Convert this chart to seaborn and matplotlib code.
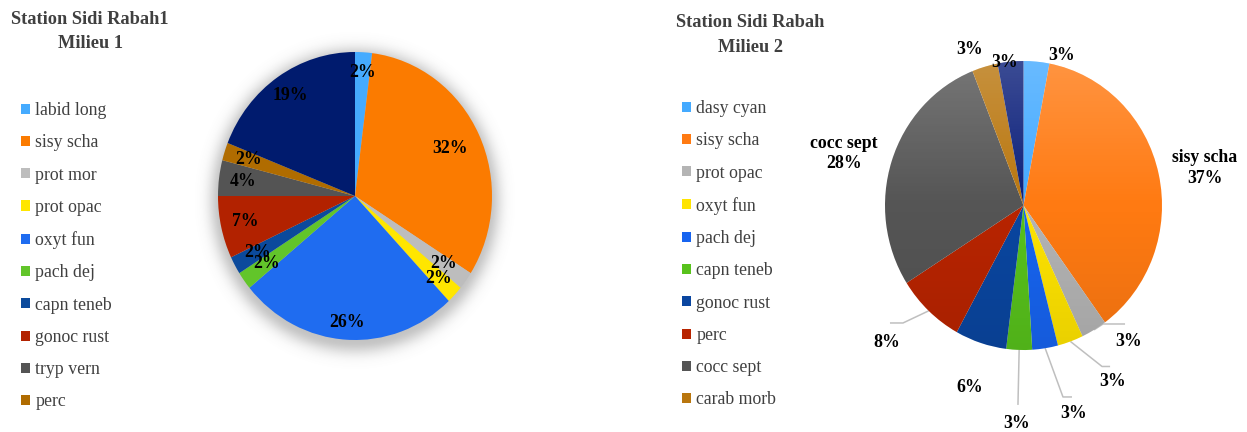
import numpy as np
import matplotlib
matplotlib.use("Agg")
import matplotlib.pyplot as plt
from matplotlib.patches import Circle
import seaborn as sns

# ---- data -------------------------------------------------------------
species_1 = ["labid long", "sisy scha", "prot mor", "prot opac", "oxyt fun",
             "pach dej", "capn teneb", "gonoc rust", "tryp vern", "perc", ""]
pct_1 = [2, 32, 2, 2, 26, 2, 2, 7, 4, 2, 19]

species_2 = ["dasy cyan", "sisy scha", "prot opac", "oxyt fun", "pach dej",
             "capn teneb", "gonoc rust", "perc", "cocc sept", "carab morb", ""]
pct_2 = [3, 37, 3, 3, 3, 3, 6, 8, 28, 3, 3]

title_1 = "Station Sidi Rabah1\nMilieu 1"
title_2 = "Station Sidi Rabah\nMilieu 2"

# ---- style ------------------------------------------------------------
sns.set_theme(style="white")
plt.rcParams["font.family"] = ["Liberation Serif", "DejaVu Serif"]

colors_1 = sns.color_palette(["#45ABFF", "#FB7B00", "#BDBDBD", "#FFE600", "#1F6CF0",
                              "#62C52A", "#0B4A9C", "#B22200", "#545454", "#B06C00",
                              "#001B6E"])
colors_2 = sns.color_palette(["#44AAFF", "#FF7A12", "#B4B4B4", "#FFE400", "#1764F0",
                              "#58C21C", "#0A46A0", "#B82400", "#555555", "#B9760E",
                              "#0B1F7A"])

W, H = 1247, 432
fig = plt.figure(figsize=(W / 100, H / 100), dpi=100)
fig.patch.set_facecolor("white")


def pie_axes(box_x, center, radii):
    """Axes spanning box_x horizontally (px) and full height; unit circle mapped
    to an ellipse of the given pixel radii around center."""
    x0, x1 = box_x
    cx, cy = center
    rx, ry = radii
    ax = fig.add_axes([x0 / W, 0, (x1 - x0) / W, 1])
    return ax, ((x0 - cx) / rx, (x1 - cx) / rx), ((cy - H) / ry, cy / ry)


def mid_xy(w, r=1.0):
    a = np.deg2rad((w.theta1 + w.theta2) / 2)
    return r * np.cos(a), r * np.sin(a)


label_kw = dict(ha="center", va="center", fontsize=12.8, fontweight="bold", color="black")

# ---- Milieu 1 ---------------------------------------------------------
ax1, xl1, yl1 = pie_axes((170, 560), (355, 196), (137, 144))

# soft drop shadow around the pie
gx = np.linspace(-1.5, 1.5, 400)
GX, GY = np.meshgrid(gx, gx)
R = np.hypot(GX, GY + 0.03)
shade = np.clip(0.42 * np.exp(-((R - 0.98) / 0.09) ** 2), 0, 1)
shade[R < 0.98] = 0.42
rgba = np.zeros(GX.shape + (4,))
rgba[..., :3] = 0.45
rgba[..., 3] = shade
ax1.imshow(rgba, extent=(-1.5, 1.5, -1.5, 1.5), origin="lower", zorder=0, aspect="auto")

wedges1, _ = ax1.pie(pct_1, colors=colors_1, startangle=90, counterclock=False,
                     radius=1, wedgeprops=dict(linewidth=0, zorder=1))
label_r1 = [0.86, 0.77, 0.80, 0.835, 0.88, 0.80, 0.81, 0.82, 0.82, 0.815, 0.84]
for w, v, r in zip(wedges1, pct_1, label_r1):
    x, y = mid_xy(w, r)
    ax1.text(x, y, f"{v}%", zorder=5, **label_kw)
ax1.set_aspect("auto")
ax1.set_xlim(*xl1)
ax1.set_ylim(*yl1)
ax1.axis("off")

# ---- Milieu 2 ---------------------------------------------------------
ax2, xl2, yl2 = pie_axes((780, 1247), (1023.5, 205.5), (138.5, 144.5))
wedges2, _ = ax2.pie(pct_2, colors=colors_2, startangle=90, counterclock=False,
                     radius=1, wedgeprops=dict(linewidth=0, zorder=1))

# vertical light-to-dark sheen over the pie
n = 256
t = np.linspace(0, 1, n)  # 0 = top, 1 = bottom
sheen = np.zeros((n, 1, 4))
top = np.clip(1 - t / 0.5, 0, 1)
bot = np.clip((t - 0.5) / 0.5, 0, 1)
sheen[:, 0, :3] = np.where(t < 0.5, 1.0, 0.0)[:, None]
sheen[:, 0, 3] = 0.20 * top + 0.09 * bot
im = ax2.imshow(sheen, extent=(-1, 1, -1, 1), origin="upper", zorder=2, aspect="auto")
im.set_clip_path(Circle((0, 0), 1, transform=ax2.transData))

# label anchors (unit-radius coordinates)
label_pos_2 = [(0.278, 1.035), (1.31, 0.26), (0.755, -0.94), (0.64, -1.22),
               (0.36, -1.44), (-0.05, -1.51), (-0.39, -1.26), (-0.985, -0.95),
               (-1.297, 0.36), (-0.39, 1.08), (-0.14, 0.99)]
named_2 = {1, 8}
for i, (w, v) in enumerate(zip(wedges2, pct_2)):
    txt = f"{species_2[i]}\n{v}%" if i in named_2 else f"{v}%"
    x, y = label_pos_2[i]
    ax2.text(x, y, txt, zorder=5, linespacing=1.25, **label_kw)

# leader lines: slice edge -> elbow -> end
leaders_2 = {2: [(0.574, -0.82), (0.733, -0.82)],
             3: [(0.567, -1.114), (0.625, -1.114)],
             4: [(0.285, -1.325), (0.350, -1.325)],
             5: [(-0.04, -1.38)],
             7: [(-0.870, -0.813), (-0.964, -0.813)]}
for i, pts in leaders_2.items():
    x0, y0 = mid_xy(wedges2[i], 1.0)
    xs = [x0] + [p[0] for p in pts]
    ys = [y0] + [p[1] for p in pts]
    ax2.plot(xs, ys, color="#BFBFBF", lw=1.1, zorder=0.5, solid_capstyle="butt")

ax2.set_aspect("auto")
ax2.set_xlim(*xl2)
ax2.set_ylim(*yl2)
ax2.axis("off")

# ---- titles -----------------------------------------------------------
title_kw = dict(ha="center", va="center", fontsize=13.2, fontweight="bold",
                color="#404040", linespacing=1.6)
fig.text(90 / W, 1 - 31.5 / H, title_1, **title_kw)
fig.text(750 / W, 1 - 35 / H, title_2, **title_kw)

# ---- legends (first ten entries) --------------------------------------
leg_kw = dict(loc="upper left", frameon=False, fontsize=12.8, labelcolor="#404040",
              handlelength=0.5, handleheight=0.5, handletextpad=0.3,
              labelspacing=0.86, borderpad=0, borderaxespad=0)
fig.legend(wedges1[:10], species_1[:10], bbox_to_anchor=(21 / W, 1 - 102 / H), **leg_kw)
fig.legend(wedges2[:10], species_2[:10], bbox_to_anchor=(682 / W, 1 - 100 / H), **leg_kw)

fig.savefig("out.png", dpi=100, facecolor="white")
